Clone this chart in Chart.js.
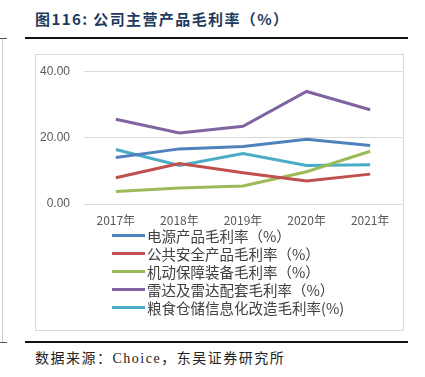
<!DOCTYPE html>
<html><head><meta charset="utf-8">
<script src="https://cdn.jsdelivr.net/npm/chart.js@4"></script>
<style>
body{margin:0;width:425px;height:377px;background:#fff;position:relative;overflow:hidden;font-family:"Noto Sans CJK SC",sans-serif;}
.abs{position:absolute;}
#title{left:35px;top:8px;font-size:15px;font-weight:bold;color:#1f3a60;font-family:"Noto Sans CJK SC",serif;letter-spacing:1.4px;white-space:nowrap;}
#foot{left:35px;top:347px;font-size:14px;color:#222;font-family:"Liberation Serif","Noto Sans CJK SC",serif;letter-spacing:1.5px;white-space:nowrap;}
#legend{left:112px;top:226px;}
.li{height:18.2px;display:flex;align-items:center;font-size:14.5px;color:#404040;white-space:nowrap;}
.sw{width:33px;height:3px;margin-right:2px;}
</style></head><body>
<div class="abs" style="left:0;top:38px;width:7px;height:1px;background:#555"></div>
<div class="abs" style="left:2px;top:39px;width:1px;height:303px;background:#ccc"></div>
<div class="abs" style="left:0;top:342px;width:7px;height:1px;background:#555"></div>
<div id="title" class="abs">图116:&nbsp;公司主营产品毛利率（%）</div>
<div class="abs" style="left:25px;top:37px;width:383px;height:2px;background:#111"></div>
<div class="abs" style="left:35px;top:54px;width:367px;height:275px;border:1px solid #d9d9d9"></div>
<div class="abs" style="left:36px;top:50px;width:367px;height:180px"><canvas id="c" width="367" height="180"></canvas></div>
<div id="legend" class="abs"></div>
<div class="abs" style="left:25px;top:341px;width:383px;height:2px;background:#111"></div>
<div id="foot" class="abs">数据来源：Choice，东吴证券研究所</div>
<script>
const categories=["2017年","2018年","2019年","2020年","2021年"];
const seriesNames=["电源产品毛利率（%）","公共安全产品毛利率（%）","机动保障装备毛利率（%）","雷达及雷达配套毛利率（%）","粮食仓储信息化改造毛利率(%)"];
const powerProducts=[14.0,16.6,17.3,19.5,17.6];
const publicSafety=[7.9,12.2,9.4,6.9,9.0];
const mobileSupport=[3.8,4.8,5.4,9.7,15.9];
const radar=[25.5,21.4,23.4,33.9,28.4];
const grainStorage=[16.4,11.6,15.2,11.6,11.8];
const yTicks=[0,20,40];
const colors=["#4f81bd","#c0504d","#9bbb59","#8064a2","#4bacc6"];
const values=[powerProducts,publicSafety,mobileSupport,radar,grainStorage];
const datasets=values.map((v,i)=>({label:seriesNames[i],data:v,borderColor:colors[i],backgroundColor:colors[i],borderWidth:3,pointRadius:0,tension:0,fill:false}));
new Chart(document.getElementById('c'),{type:'line',data:{labels:categories,datasets:datasets},
options:{responsive:false,animation:false,events:[],
layout:{padding:{top:3,right:1,left:0,bottom:0}},
plugins:{legend:{display:false},tooltip:{enabled:false}},
scales:{
x:{offset:true,grid:{display:false},border:{display:false},
 ticks:{color:'#595959',font:{size:12,family:'"Noto Sans CJK SC",sans-serif'},padding:1,maxRotation:0},
 afterFit:s=>{s.height=26;}},
y:{min:0,max:40,afterBuildTicks:s=>{s.ticks=yTicks.map(v=>({value:v}));},
 grid:{color:'#d9d9d9',drawTicks:false},border:{display:false},
 ticks:{color:'#595959',font:{size:12,family:'"Liberation Sans",sans-serif'},padding:14,callback:v=>v.toFixed(2)},
 afterFit:s=>{s.width=48;}}
}}});
const lg=document.getElementById('legend');
seriesNames.forEach((n,i)=>{const d=document.createElement('div');d.className='li';d.innerHTML='<span class="sw" style="background:'+colors[i]+'"></span><span>'+n+'</span>';lg.appendChild(d);});
</script>
</body></html>
